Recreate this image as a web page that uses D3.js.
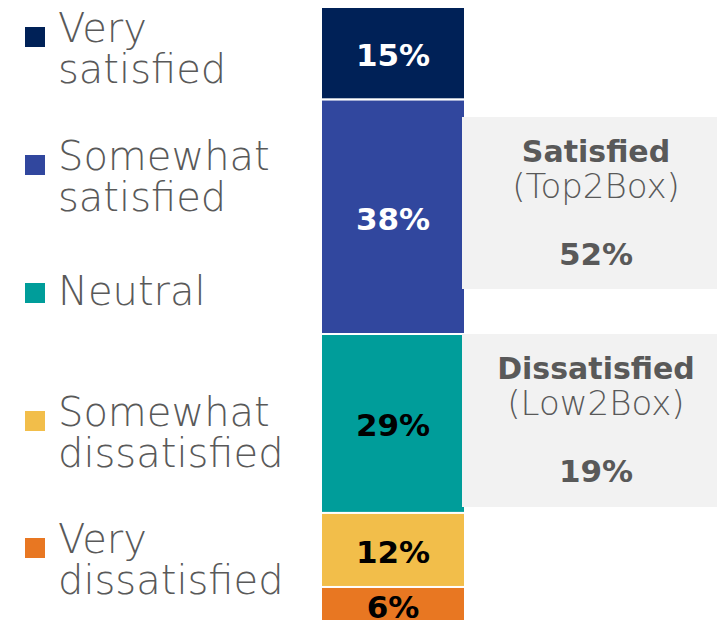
<!DOCTYPE html>
<html><head><meta charset="utf-8">
<script src="https://cdn.jsdelivr.net/npm/d3@7"></script>
<style>html,body{margin:0;padding:0;background:#fff;overflow:hidden}</style>
</head><body>
<script>
const categories = ["Very satisfied","Somewhat satisfied","Neutral","Somewhat dissatisfied","Very dissatisfied"];
const legendLines = [["Very","satisfied"],["Somewhat","satisfied"],["Neutral"],["Somewhat","dissatisfied"],["Very","dissatisfied"]];
const values = [15,38,29,12,6];
const colors = ["#002157","#31479e","#009d9a","#f2be4a","#e87722"];
const labelColors = ["#ffffff","#ffffff","#000000","#000000","#000000"];
const summaryTitles = ["Satisfied","Dissatisfied"];
const summarySubs = ["(Top2Box)","(Low2Box)"];
const summaryValues = [52,19];

const W=717,H=620;
const svg=d3.select("body").append("svg").attr("width",W).attr("height",H);
const y=d3.scaleLinear().domain([0,100]).range([7,624]);
const x=d3.scaleBand().domain(["all"]).range([321,465]);
const fontL="'DejaVu Sans', sans-serif";
const grey="#595959";

let cum=0;
const segs=values.map((v,i)=>{const s={i,v,y0:cum,y1:cum+v};cum+=v;return s;});

svg.selectAll("rect.seg").data(segs).join("rect").attr("class","seg")
 .attr("x",x("all")).attr("width",x.bandwidth())
 .attr("y",d=>y(d.y0)).attr("height",d=>y(d.y1)-y(d.y0))
 .attr("fill",d=>colors[d.i]).attr("stroke","#fff").attr("stroke-width",2);

svg.selectAll("text.seg").data(segs).join("text").attr("class","seg")
 .attr("x",x("all")+x.bandwidth()/2).attr("y",d=>(y(d.y0)+y(d.y1))/2+13)
 .attr("text-anchor","middle").attr("font-family",fontL).attr("font-weight","bold")
 .attr("font-size",31).attr("fill",d=>labelColors[d.i]).text(d=>d.v+"%");

// summary boxes
const boxX=462, boxR=730, cx=(boxX+boxR)/2;
const boxTops=[117,334], boxBots=[289,507];
summaryTitles.forEach((t,k)=>{
  const g=svg.append("g");
  g.append("rect").attr("x",boxX).attr("y",boxTops[k]).attr("width",boxR-boxX).attr("height",boxBots[k]-boxTops[k]).attr("fill","#f2f2f2");
  g.append("text").attr("x",cx).attr("y",boxTops[k]+45).attr("text-anchor","middle").attr("font-family",fontL).attr("font-weight","bold").attr("font-size",30).attr("fill",grey).text(t);
  g.append("text").attr("x",cx).attr("y",boxTops[k]+81).attr("text-anchor","middle").attr("font-family",fontL).attr("font-weight",200).attr("font-size",34).attr("fill",grey).text(summarySubs[k]);
  g.append("text").attr("x",cx).attr("y",boxTops[k]+148).attr("text-anchor","middle").attr("font-family",fontL).attr("font-weight","bold").attr("font-size",31).attr("fill",grey).text(summaryValues[k]+"%");
});

// legend
const legTops=[27,155,283,411,538];
const lg=svg.selectAll("g.leg").data(categories).join("g").attr("class","leg");
lg.append("rect").attr("x",25).attr("y",(d,i)=>legTops[i]).attr("width",20).attr("height",20).attr("fill",(d,i)=>colors[i]);
lg.each(function(d,i){
   const lines=legendLines[i];
   const off=lines.length===1?22:15;
   d3.select(this).selectAll("text").data(lines).join("text")
    .attr("font-family",fontL).attr("font-weight",200).attr("font-size",40).attr("fill",grey)
    .attr("x",58).attr("y",(l,j)=>legTops[i]+off+j*41).text(l=>l);
 });
</script>
</body></html>
